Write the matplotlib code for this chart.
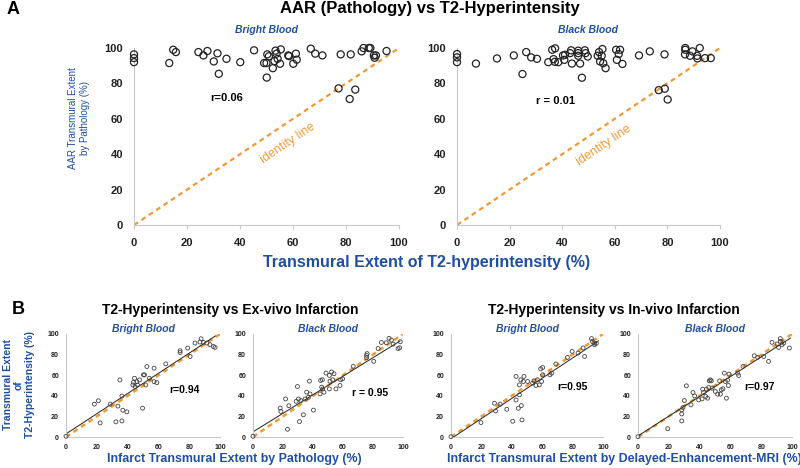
import numpy as np
import matplotlib.pyplot as plt

plt.rcParams['font.family'] = ['Liberation Sans', 'DejaVu Sans']

BLUE = '#1f4f9e'
ORANGE = '#f09a36'
W, H = 800, 468

# ── data: panel A (AAR by pathology vs T2 extent) ────────────────────────────
aar_bright_x = [0, 0, 0, 13.3, 14.8, 15.8, 24.3, 26.2, 27.7, 30.1, 31.5, 32, 34.9,
                40.1, 45.3, 49.1, 50, 50.3, 50.9, 50.1, 52.4, 53, 53.4, 53.8, 54.2,
                55.1, 55.4, 58.2, 58.5, 60.1, 61.1, 61.4, 66.7, 68.4, 71.1, 77.2,
                78, 81.4, 81.8, 83.5, 85.9, 86.6, 88.6, 89.2, 90.5, 90.8, 91.3, 95.3]
aar_bright_y = [96.4, 94.3, 92, 91.5, 99, 97.7, 97.7, 95.8, 98.3, 92.4, 97, 85.4, 93.9,
                92, 98.7, 91.5, 91.5, 96.4, 95.3, 83.3, 88.6, 92.6, 98.5, 96.8, 93.9,
                91.1, 99.2, 95.8, 95.4, 91.1, 96.8, 93.4, 99.6, 96.8, 95.8, 77.2,
                96.4, 71.2, 96.4, 76.5, 98.1, 100, 100, 100, 95.8, 94.5, 95.8, 98.3]

aar_black_x = [0, 0, 0, 7.2, 15.2, 21.6, 24.9, 26.3, 28.2, 30.4, 34.7, 36.2, 37.3,
               36.7, 37.2, 38.5, 40.3, 41.1, 40.8, 43, 43.4, 43.7, 46.1, 46.1, 46.1,
               46.8, 47.5, 48.6, 48.9, 49.7, 53.5, 54, 54.4, 55, 55.3, 55.6, 56.5,
               60.5, 60.8, 61.5, 62, 62.9, 69.2, 73.3, 76.7, 78.9, 79, 80.1, 86.8,
               86.8, 86.7, 88.6, 89.5, 91.3, 91.4, 92.3, 94.3, 96.5]
aar_black_y = [96.6, 94.7, 92, 91.2, 94.1, 95.8, 85.3, 97.7, 94.7, 93.9, 92, 99, 99.8,
               93.7, 92.2, 92, 95.8, 96.2, 93.3, 97.1, 98.7, 91.2, 98.5, 97.1, 95.6,
               91.2, 83.2, 98.7, 97.1, 95.2, 95.6, 97.7, 92.4, 95.6, 99.4, 91.4, 88.6,
               99, 93.3, 96.6, 99, 91, 95.8, 98.1, 76.2, 96.4, 77, 70.9, 100,
               99, 96.4, 95.6, 98.1, 95.6, 94.1, 100, 94.3, 94.3]

# ── data: panel B (T2 extent vs infarct extent) ──────────────────────────────
exv_bright_x = [0, 18.4, 21, 22.2, 28.7, 32.4, 33.7, 35, 36.3, 36.3, 36.9, 39.5, 43.4,
                43.8, 44.5, 44.9, 46, 46.4, 47.7, 49.7, 50.3, 51, 51.8, 52.5, 54.2,
                57.2, 57.2, 59, 64.8, 74.1, 74.1, 79, 80.6, 83.8, 87, 87.7, 89.2,
                91.4, 93.5, 95.7, 96.8]
exv_bright_y = [0.7, 31.9, 35.2, 13.7, 31.9, 14.7, 30, 55.4, 39.7, 15.6, 26, 24.4, 50.5,
                53.1, 57, 48.9, 53.7, 50.5, 55.4, 28, 60.3, 60.3, 50.5, 68.4, 57,
                66.8, 53.7, 52.8, 71, 83.7, 82, 86.3, 78.2, 91.2, 92.2, 95.4, 91.9,
                91.2, 89.6, 87.9, 87]

exv_black_x = [0, 18.1, 18.6, 21.7, 23, 23.9, 28.8, 29.6, 30.3, 31, 31.9, 33.6, 34.7,
               35.8, 36.9, 37.6, 38, 40.3, 44.7, 45.1, 45.8, 46.2, 46.5, 47.3, 48.7,
               50.9, 50.9, 51.3, 52.4, 53.1, 54, 55.3, 58, 58.4, 59.7, 66.8, 75.7,
               76.1, 75.7, 80.5, 83.4, 85.6, 88.9, 90.7, 92.3, 93.4, 96.7, 97.8, 98.2]
exv_black_y = [0.7, 28.1, 24.8, 36.9, 7.5, 30.4, 34.6, 49, 36.9, 15, 35.3, 21.6, 36.9,
               43.5, 38.6, 54.2, 41.8, 26.1, 41.8, 54.9, 48.4, 55.6, 46.7, 43.5, 62.1,
               59.8, 46.7, 54.2, 63.1, 55.6, 61.4, 46.7, 50, 55.6, 56.5, 68.6, 79.4,
               81, 77.1, 73.5, 85.9, 91.8, 91.5, 95.8, 94.1, 90.2, 85.9, 86.6, 92.5]

inv_bright_x = [0, 19.7, 28.6, 29.3, 32.3, 36.7, 40.6, 42.8, 42.8, 44.3, 45, 45, 45.9,
                46.3, 46.7, 47.6, 48, 50.4, 53.7, 54.6, 55.9, 56.8, 58.1, 59, 59.6,
                60.3, 60.3, 65.1, 66.2, 69, 76.6, 79.7, 83.6, 86.9, 87.9, 92.4, 93,
                94.1, 94.5, 95.6]
inv_bright_y = [0.3, 14, 32.8, 25.3, 31.8, 26.9, 15.3, 58.8, 36, 27.9, 40.9, 50.6, 55.5,
                30.5, 16.6, 53.9, 58.8, 53.9, 52.3, 54.5, 50, 55.5, 50.6, 66.2, 53.9,
                67.5, 60.4, 60.4, 62, 70.8, 77.3, 83.1, 81.5, 86.4, 78.2, 95.5, 92.9,
                91.2, 89.6, 90.9]

inv_black_x = [0, 19.3, 28.4, 28.4, 28.4, 29.2, 30.1, 31.4, 34.4, 35.7, 36.8, 39.4,
               41.6, 42, 42.6, 44, 44.4, 45.2, 45.9, 46.3, 47, 47.6, 48.1, 50.2, 51.7,
               53, 53.5, 54.1, 55.2, 56.1, 56.7, 57.4, 58.2, 58.7, 59.1, 64.7, 65.4,
               68.2, 75.5, 77.7, 81.6, 84.8, 87, 90.3, 91.3, 92.4, 92.4, 93.5, 94.6,
               98.3]
inv_black_y = [0.3, 8.1, 26.3, 22.4, 15.6, 28.6, 35.4, 49.7, 31.2, 43.2, 39.9, 36,
               37, 46.4, 43.2, 39.3, 46.4, 37.7, 48.1, 54.5, 55.5, 54.5, 47.4, 44.2, 41.6,
               54.5, 41.6, 45.8, 46.8, 62, 53.9, 37.7, 55.2, 50, 61, 62, 59.7,
               68.5, 78.9, 77.3, 78.2, 73.4, 91.9, 90.3, 87, 95.5, 92.9, 89.6, 91.2,
               86.4]

# regression lines (slope, intercept, x end)
fit_slope = [0.98, 0.90, 0.98, 0.96]
fit_intercept = [3.0, 5.0, -1.7, 1.0]
fit_xend = [97, 98, 97, 99]
r_values = ['r=0.94', 'r = 0.95', 'r=0.95', 'r=0.97']
r_pos = [(77, 46), (78, 43), (80, 49), (79, 49)]

fig = plt.figure(figsize=(W / 100, H / 100), dpi=100)


def add_ax(x0, x1, ytop, ybot):
    return fig.add_axes([x0 / W, 1 - ybot / H, (x1 - x0) / W, (ybot - ytop) / H])


def px(x, y):
    return x / W, 1 - y / H


def style(ax, fs, tlen, xpad, ypad):
    ax.set_xlim(0, 100)
    ax.set_ylim(0, 100)
    ax.set_xticks(range(0, 101, 20))
    ax.set_yticks(range(0, 101, 20))
    for s in ['top', 'right']:
        ax.spines[s].set_visible(False)
    for s in ['left', 'bottom']:
        ax.spines[s].set_color('#c8c8c8')
        ax.spines[s].set_linewidth(0.8)
    ax.tick_params(axis='x', length=tlen, color='#c8c8c8', labelsize=fs, pad=xpad)
    ax.tick_params(axis='y', length=0, labelsize=fs, pad=ypad)
    for lbl in ax.get_xticklabels() + ax.get_yticklabels():
        lbl.set_fontweight('bold')
        lbl.set_color('#222222')


# ── panel A ──────────────────────────────────────────────────────────────────
top_axes = [add_ax(134, 399, 48, 225), add_ax(457, 720, 48, 225)]
top_data = [(aar_bright_x, aar_bright_y), (aar_black_x, aar_black_y)]
top_sub = ['Bright Blood', 'Black Blood']
top_r = [('r=0.06', 34.8, 71.7), ('r = 0.01', 37.6, 70)]
id_pos = [(58, 46), (56, 45)]

for ax, (xs, ys), sub, (rt, rx, ry), (ix, iy) in zip(top_axes, top_data, top_sub, top_r, id_pos):
    style(ax, 8, 3, 6, 8)
    ax.plot([0, 100], [0, 100], ls=(0, (2.2, 1.8)), color=ORANGE, lw=1.6, zorder=1)
    ax.scatter(xs, ys, s=26, facecolors='none', edgecolors='#222222', linewidths=0.9,
               clip_on=False, zorder=3)
    ax.text(rx, ry, rt, fontsize=8, fontweight='bold', ha='center', va='center')
    ax.text(ix, iy, 'identity line', fontsize=9, color=ORANGE, rotation=34,
            ha='center', va='center', rotation_mode='anchor')
    ax.set_title(sub, fontsize=7.5, fontweight='bold', style='italic', color=BLUE, pad=11)

fig.text(*px(7, 9), 'A', fontsize=13, fontweight='bold', ha='left', va='center')
fig.text(*px(430, 9), 'AAR (Pathology) vs T2-Hyperintensity', fontsize=12,
         fontweight='bold', ha='center', va='center')
fig.text(*px(427, 262), 'Transmural Extent of T2-hyperintensity (%)', fontsize=11.5,
         fontweight='bold', color=BLUE, ha='center', va='center')
fig.text(*px(79, 118), 'AAR Transmural Extent\nby Pathology (%)', fontsize=7,
         color=BLUE, ha='center', va='center', rotation=90, linespacing=1.15)

# ── panel B ──────────────────────────────────────────────────────────────────
bot_axes = [add_ax(66, 220, 334, 437), add_ax(253, 403, 334, 437),
            add_ax(451, 603, 334, 437), add_ax(638, 792, 334, 437)]
bot_data = [(exv_bright_x, exv_bright_y), (exv_black_x, exv_black_y),
            (inv_bright_x, inv_bright_y), (inv_black_x, inv_black_y)]
bot_sub = ['Bright Blood', 'Black Blood', 'Bright Blood', 'Black Blood']

for i, ax in enumerate(bot_axes):
    xs, ys = bot_data[i]
    style(ax, 5, 0, 5, 5)
    ax.plot([0, 100], [0, 100], ls=(0, (2.0, 1.6)), color=ORANGE, lw=1.8, zorder=1)
    xe = fit_xend[i]
    x0 = max(0, -fit_intercept[i] / fit_slope[i])
    ax.plot([x0, xe], [fit_slope[i] * x0 + fit_intercept[i], fit_slope[i] * xe + fit_intercept[i]],
            color='#222222', lw=0.7, zorder=2)
    ax.scatter(xs, ys, s=8, facecolors='none', edgecolors='#444444', linewidths=0.6,
               clip_on=False, zorder=3)
    ax.text(r_pos[i][0], r_pos[i][1], r_values[i], fontsize=7.5, fontweight='bold',
            ha='center', va='center')
    ax.set_title(bot_sub[i], fontsize=7.5, fontweight='bold', style='italic',
                 color=BLUE, pad=-3)

fig.text(*px(12, 309), 'B', fontsize=13, fontweight='bold', ha='left', va='center')
fig.text(*px(230, 310), 'T2-Hyperintensity vs Ex-vivo Infarction', fontsize=10,
         fontweight='bold', ha='center', va='center')
fig.text(*px(614, 310), 'T2-Hyperintensity vs In-vivo Infarction', fontsize=10,
         fontweight='bold', ha='center', va='center')
fig.text(*px(234, 459), 'Infarct Transmural Extent by Pathology (%)', fontsize=8.9,
         fontweight='bold', color=BLUE, ha='center', va='center')
fig.text(*px(624, 459), 'Infarct Transmural Extent by Delayed-Enhancement-MRI (%)',
         fontsize=8.9, fontweight='bold', color=BLUE, ha='center', va='center')
fig.text(*px(19, 385), 'Transmural Extent\nof\nT2-Hyperintensity (%)', fontsize=7.5,
         fontweight='bold', color=BLUE, ha='center', va='center', rotation=90,
         linespacing=1.15)

fig.savefig('out.png', dpi=100)
